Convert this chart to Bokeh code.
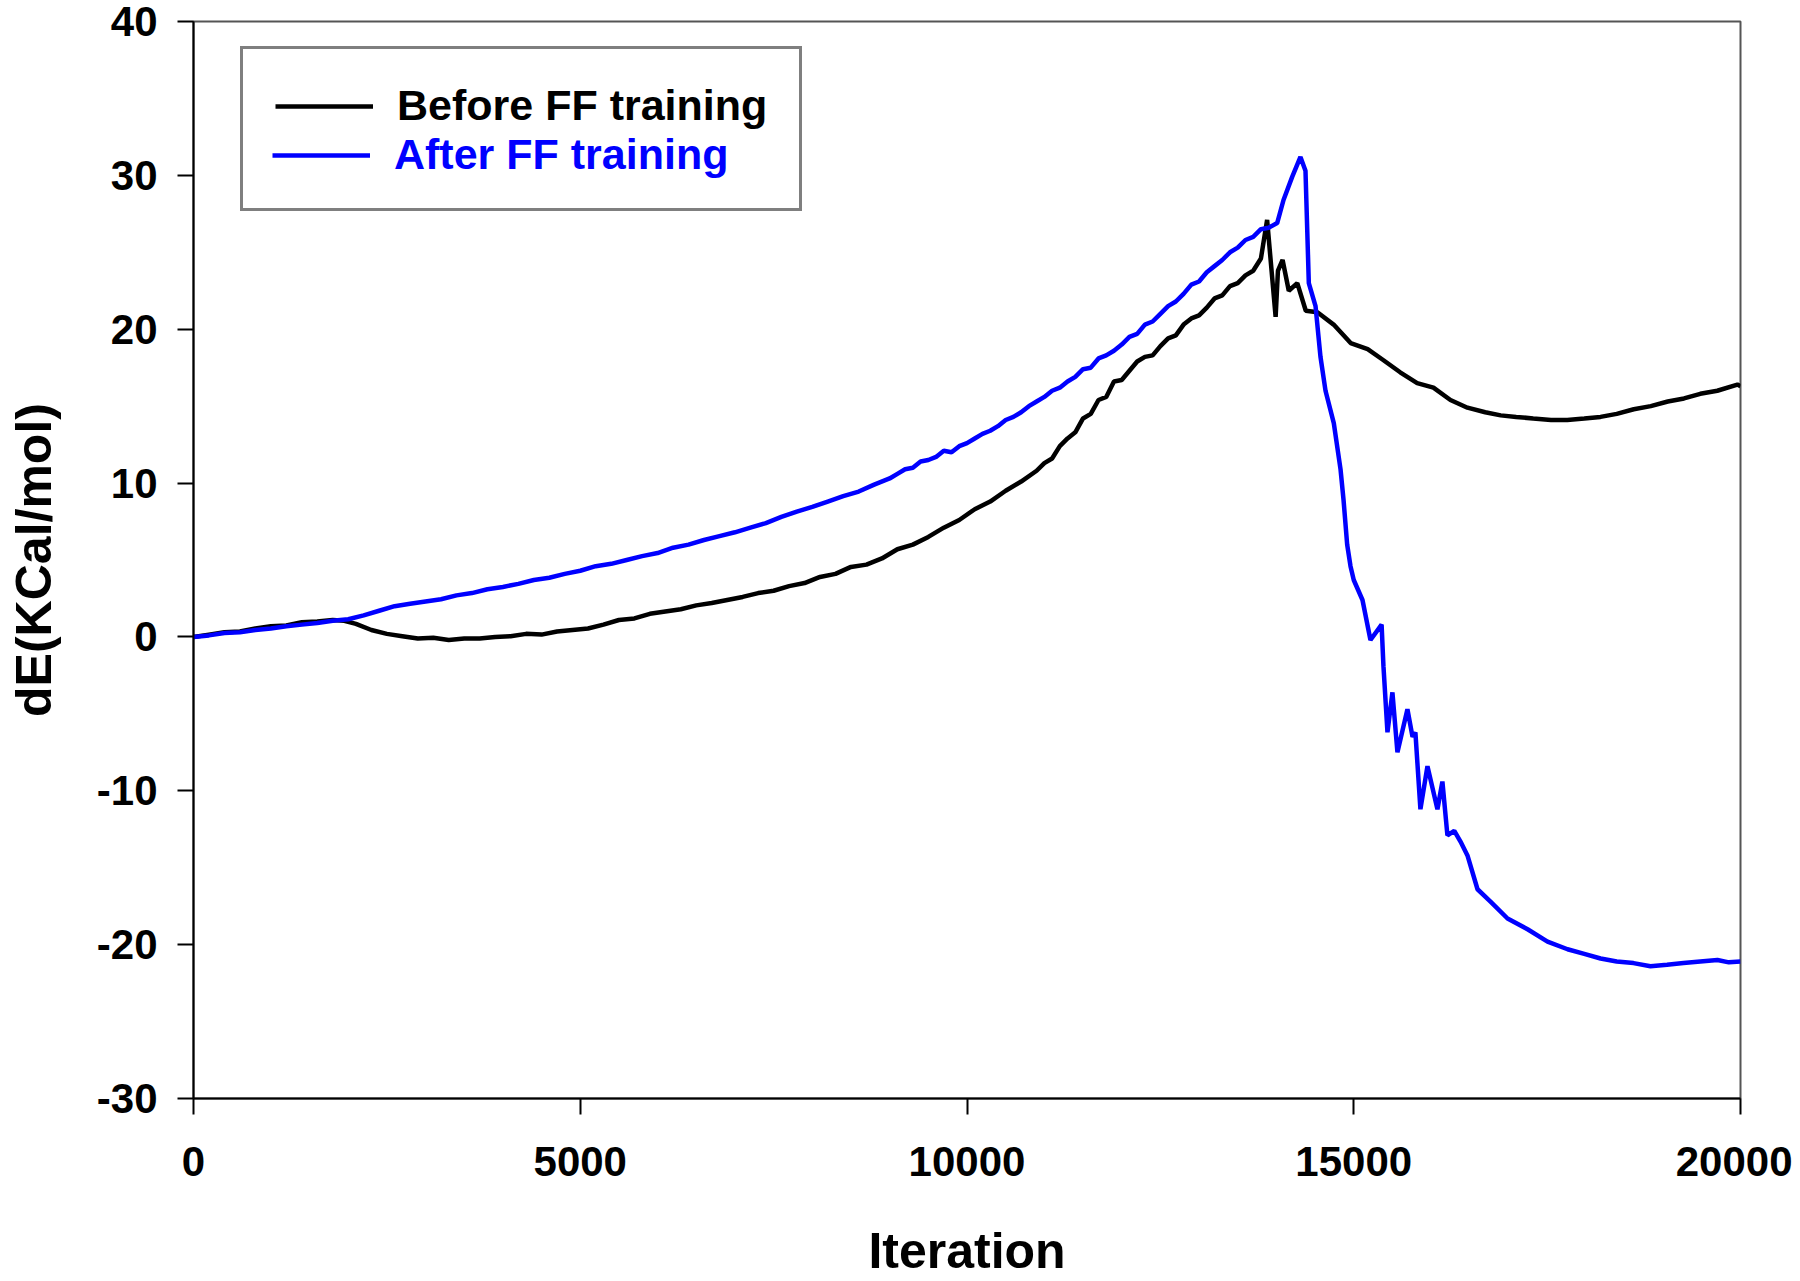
from bokeh.plotting import figure
from bokeh.models import Legend, LegendItem, FixedTicker, Range1d
from bokeh.embed import file_html
from bokeh.resources import INLINE

# ---- data ----
before_x = [0, 200, 400, 600, 800, 1000, 1200, 1400, 1600, 1800, 1950, 2100, 2300, 2500, 2700,
            2900, 3100, 3300, 3500, 3700, 3900, 4100, 4300, 4500, 4700, 4900, 5100, 5300, 5500,
            5700, 5900, 6100, 6300, 6500, 6700, 6900, 7100, 7300, 7500, 7700, 7900, 8100, 8300,
            8500, 8700, 8900, 9100, 9300, 9500, 9700, 9900, 10100, 10300, 10500, 10700, 10900,
            11000, 11100, 11200, 11300, 11400, 11500, 11600, 11700, 11800, 11900, 12000, 12100,
            12200, 12300, 12400, 12500, 12600, 12700, 12800, 12900, 13000, 13100, 13200, 13300,
            13400, 13500, 13600, 13700, 13800, 13880, 13990, 14020, 14080, 14160, 14270, 14380,
            14530, 14740, 14960, 15180, 15380, 15600, 15820, 16030, 16250, 16470, 16700, 16900,
            17100, 17320, 17550, 17760, 17980, 18190, 18400, 18620, 18840, 19060, 19270, 19480,
            19700, 19960, 20000]
before_y = [0.0, 0.15, 0.3, 0.35, 0.55, 0.7, 0.75, 0.95, 1.0, 1.1, 1.05, 0.85, 0.45, 0.2, 0.05,
            -0.1, -0.05, -0.2, -0.1, -0.1, 0.0, 0.05, 0.2, 0.15, 0.35, 0.45, 0.55, 0.8, 1.1,
            1.2, 1.5, 1.65, 1.8, 2.05, 2.2, 2.4, 2.6, 2.85, 3.0, 3.3, 3.5, 3.9, 4.1,
            4.55, 4.7, 5.1, 5.7, 6.0, 6.5, 7.1, 7.6, 8.3, 8.8, 9.5, 10.1, 10.8,
            11.3, 11.6, 12.4, 12.9, 13.3, 14.2, 14.5, 15.4, 15.6, 16.6, 16.7, 17.3,
            17.9, 18.2, 18.3, 18.9, 19.4, 19.6, 20.3, 20.7, 20.9, 21.4, 22.0, 22.2,
            22.8, 23.0, 23.5, 23.8, 24.6, 27.1, 20.8, 23.8, 24.5, 22.5, 23.0, 21.2,
            21.1, 20.3, 19.1, 18.7, 18.0, 17.2, 16.5, 16.2, 15.4, 14.9, 14.6, 14.4,
            14.3, 14.2, 14.1, 14.1, 14.2, 14.3, 14.5, 14.8, 15.0, 15.3, 15.5, 15.8,
            16.0, 16.4, 16.3]

after_x = [0, 200, 400, 600, 800, 1000, 1200, 1400, 1600, 1800, 2000, 2200, 2400, 2600, 2800,
           3000, 3200, 3400, 3600, 3800, 4000, 4200, 4400, 4600, 4800, 5000, 5200, 5400, 5600,
           5800, 6000, 6200, 6400, 6600, 6800, 7000, 7200, 7400, 7600, 7800, 8000, 8200, 8400,
           8600, 8800, 9000, 9100, 9200, 9300, 9400, 9500, 9600, 9700, 9800, 9900, 10000,
           10100, 10200, 10300, 10400, 10500, 10600, 10700, 10800, 10900, 11000, 11100, 11200,
           11300, 11400, 11500, 11600, 11700, 11800, 11900, 12000, 12100, 12200, 12300, 12400,
           12500, 12600, 12700, 12800, 12900, 13000, 13100, 13200, 13300, 13400, 13500, 13600,
           13700, 13800, 13900, 14010, 14092, 14204, 14311, 14376, 14419, 14506, 14570, 14635,
           14742, 14829, 14868, 14915, 14958, 15000, 15113, 15216, 15360, 15384, 15436, 15500,
           15565, 15694, 15760, 15797, 15862, 15953, 16082, 16146, 16211, 16300, 16380, 16470,
           16600, 16768, 16988, 17247, 17505, 17764, 17980, 18191, 18400, 18617, 18836, 19050,
           19263, 19480, 19702, 19850, 20000]
after_y = [0.0, 0.1, 0.25, 0.3, 0.45, 0.55, 0.7, 0.8, 0.9, 1.05, 1.15, 1.4, 1.7, 2.0, 2.15,
           2.3, 2.45, 2.7, 2.85, 3.1, 3.25, 3.45, 3.7, 3.85, 4.1, 4.3, 4.6, 4.75, 5.0,
           5.25, 5.45, 5.8, 6.0, 6.3, 6.55, 6.8, 7.1, 7.4, 7.8, 8.15, 8.45, 8.8, 9.15,
           9.45, 9.9, 10.3, 10.6, 10.9, 11.0, 11.4, 11.5, 11.7, 12.1, 12.0, 12.4, 12.6,
           12.9, 13.2, 13.4, 13.7, 14.1, 14.3, 14.6, 15.0, 15.3, 15.6, 16.0, 16.2,
           16.6, 16.9, 17.4, 17.5, 18.1, 18.3, 18.6, 19.0, 19.5, 19.7, 20.3, 20.5,
           21.0, 21.5, 21.8, 22.3, 22.9, 23.1, 23.7, 24.1, 24.5, 25.0, 25.3, 25.8,
           26.0, 26.5, 26.6, 26.9, 28.4, 29.9, 31.2, 30.3, 23.0, 21.5, 18.2, 16.0,
           13.9, 10.9, 8.9, 6.0, 4.6, 3.7, 2.4, -0.2, 0.8, -1.9, -6.2, -3.6,
           -7.5, -4.7, -6.5, -6.2, -11.2, -8.4, -11.2, -9.4, -12.9, -12.6, -13.3, -14.2,
           -16.4, -17.2, -18.3, -19.0, -19.8, -20.3, -20.6, -20.9, -21.1, -21.2, -21.4, -21.3,
           -21.2, -21.1, -21.0, -21.15, -21.1]

x_ticks = [0, 5000, 10000, 15000, 20000]
y_ticks = [-30, -20, -10, 0, 10, 20, 30, 40]
labels = ["Before FF training", "After FF training"]

FONT = "Liberation Sans"

p = figure(width=1792, height=1281, output_backend="svg", toolbar_location=None,
           x_range=Range1d(0, 20000), y_range=Range1d(-30, 40),
           min_border_left=193, min_border_right=52, min_border_top=21,
           min_border_bottom=181)

p.xgrid.visible = False
p.ygrid.visible = False
p.outline_line_color = "#555555"
p.outline_line_width = 2
p.background_fill_color = "white"
p.border_fill_color = "white"

r_before = p.line(before_x, before_y, line_color="black", line_width=4.5)
r_after = p.line(after_x, after_y, line_color="#0000ff", line_width=4.5)
r_blank = p.line(x=[], y=[], line_alpha=0)

for ax, ticks in ((p.xaxis[0], x_ticks), (p.yaxis[0], y_ticks)):
    ax.ticker = FixedTicker(ticks=ticks)
    ax.major_label_overrides = {t: str(t) for t in ticks}
    ax.minor_tick_line_color = None
    ax.major_tick_in = 0
    ax.major_tick_out = 16
    ax.major_tick_line_width = 2
    ax.major_tick_line_color = "black"
    ax.axis_line_width = 2
    ax.axis_line_color = "black"
    ax.major_label_text_font = FONT
    ax.major_label_text_font_style = "bold"
    ax.major_label_text_font_size = "42px"
    ax.major_label_text_line_height = 0.9
    ax.major_label_text_color = "black"
    ax.axis_label_text_font = FONT
    ax.axis_label_text_font_style = "bold"
    ax.axis_label_text_font_size = "50px"
    ax.axis_label_text_line_height = 0.8
    ax.axis_label_text_color = "black"

p.xaxis.axis_label = "Iteration"
p.yaxis.axis_label = "dE(KCal/mol)"
p.xaxis.major_label_standoff = 32
p.yaxis.major_label_standoff = 20
p.xaxis.axis_label_standoff = 44
p.yaxis.axis_label_standoff = 32

common = dict(location=(47, 887), orientation="vertical", margin=0, padding=32,
              spacing=0, glyph_width=98, glyph_height=46, label_height=46,
              label_standoff=24, label_text_font=FONT, label_text_font_style="bold",
              label_text_font_size="43px")

leg1 = Legend(items=[LegendItem(label=labels[0], renderers=[r_before]),
                     LegendItem(label=" ", renderers=[r_blank])],
              border_line_color="black", border_line_width=3,
              background_fill_color="white", background_fill_alpha=1,
              label_text_color="black", **common)
leg2 = Legend(items=[LegendItem(label=labels[1], renderers=[r_after])],
              border_line_alpha=0, background_fill_alpha=0,
              label_text_color="#0000ff", **common)
p.add_layout(leg1, "center")
p.add_layout(leg2, "center")

open("out.html", "w").write(file_html(p, INLINE))
